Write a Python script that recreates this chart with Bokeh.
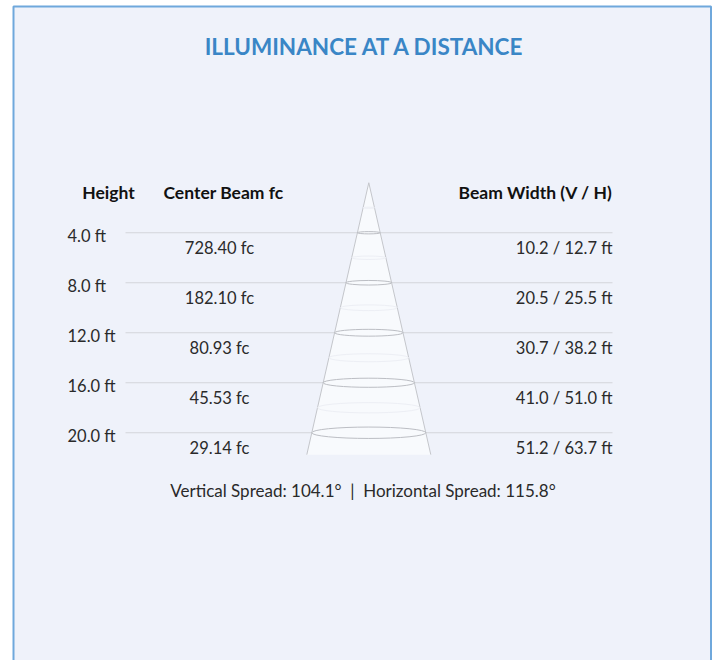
from bokeh.plotting import figure
from bokeh.models import Range1d
from bokeh.core.properties import value
from bokeh.embed import file_html
from bokeh.resources import INLINE

# ---- data ----
heights = [4.0, 8.0, 12.0, 16.0, 20.0]
center_fc = [728.40, 182.10, 80.93, 45.53, 29.14]
beam_v = [10.2, 20.5, 30.7, 41.0, 51.2]
beam_h = [12.7, 25.5, 38.2, 51.0, 63.7]
vertical_spread = 104.1
horizontal_spread = 115.8
headers = ["Height", "Center Beam fc", "Beam Width (V / H)"]
title_text = "ILLUMINANCE AT A DISTANCE"

# ---- layout constants ----
W, H = 712, 660
PX_PER_FT = 12.5          # vertical scale (px per ft of mounting height)
APEX_Y = 182.25           # pixel row of the fixture (0 ft)
TOP_FT = -APEX_Y / PX_PER_FT
BEAM_PX = 1.79            # px of drawing per ft of beam width
CX = 368.3                # cone centre x (px)
FONT = value("Lato")

p = figure(width=W, height=H, output_backend="svg", toolbar_location=None,
           x_range=Range1d(0, W),
           y_range=Range1d(TOP_FT + H / PX_PER_FT, TOP_FT),
           min_border=0, min_border_left=0, min_border_right=0,
           min_border_top=0, min_border_bottom=0)
p.axis.visible = False
p.grid.visible = False
p.outline_line_color = None
p.background_fill_color = "white"
p.border_fill_color = "white"

def py(pix_y):
    return TOP_FT + pix_y / PX_PER_FT

# panel
p.quad(left=13, right=710.5, top=py(6), bottom=py(720),
       fill_color="#eff2fa", line_color="#6fa8dc", line_width=2)

# title
p.text(x=[364.5], y=[py(46)], text=[title_text], text_font=FONT,
       text_font_size=value("22.5px"), text_font_style="bold",
       text_color="#3a86c6", text_align="center", text_baseline="alphabetic")

# row rules
p.segment(x0=[125] * len(heights), x1=[612] * len(heights),
          y0=heights, y1=heights, line_color="#d3d5da", line_width=1)

# cone
rate = beam_h[-1] / heights[-1] * BEAM_PX / 2.0   # half-width px per ft depth
base = heights[-1] + 1.75
p.patch(x=[CX, CX - rate * base, CX + rate * base],
        y=[0, base, base], fill_color="#f8fafd", line_color=None)
p.segment(x0=[CX, CX], y0=[0, 0], x1=[CX - rate * base, CX + rate * base],
          y1=[base, base], line_color="#c4c6cb", line_width=1)

# faint intermediate ellipses
mids = [h - 2.0 for h in heights]
mid_w = [2 * rate * m for m in mids]
p.ellipse(x=[CX] * len(mids), y=mids, width=mid_w,
          height=[w * 0.1 / PX_PER_FT for w in mid_w],
          fill_color=None, line_color="#edeff5", line_width=1)

# beam ellipses
ew = [b * BEAM_PX for b in beam_h]
p.ellipse(x=[CX] * len(heights), y=heights, width=ew,
          height=[w * 0.1 / PX_PER_FT for w in ew],
          fill_color=None, line_color="#bcbec4", line_width=1)

# headers
hy = py(191.5)
hsize = value("17.5px")
p.text(x=[108], y=[hy], text=[headers[0]], text_font=FONT, text_font_size=hsize,
       text_font_style="bold", text_color="#111111", text_align="center", text_baseline="alphabetic")
p.text(x=[223], y=[hy], text=[headers[1]], text_font=FONT, text_font_size=hsize,
       text_font_style="bold", text_color="#111111", text_align="center", text_baseline="alphabetic")
p.text(x=[612], y=[hy], text=[headers[2]], text_font=FONT, text_font_size=hsize,
       text_font_style="bold", text_color="#111111", text_align="right", text_baseline="alphabetic")

# row labels
p.text(x=[67] * len(heights), y=[h + 0.22 for h in heights],
       text=[f"{h:.1f} ft" for h in heights], text_font=FONT, text_font_size=value("16.5px"),
       text_color="#2a2a2a", text_align="left", text_baseline="alphabetic")
p.text(x=[219] * len(heights), y=[h + 1.2 for h in heights],
       text=[f"{f:.2f} fc" for f in center_fc], text_font=FONT, text_font_size=value("16.5px"),
       text_color="#2a2a2a", text_align="center", text_baseline="alphabetic")
p.text(x=[612] * len(heights), y=[h + 1.2 for h in heights],
       text=[f"{v:.1f} / {hh:.1f} ft" for v, hh in zip(beam_v, beam_h)], text_font=FONT,
       text_font_size=value("16.5px"), text_color="#2a2a2a", text_align="right",
       text_baseline="alphabetic")

# footer
footer = f"Vertical Spread: {vertical_spread}°\u00a0 |\u00a0 Horizontal Spread: {horizontal_spread}°"
p.text(x=[362.5], y=[py(490)], text=[footer], text_font=FONT, text_font_size=value("17px"),
       text_color="#2a2a2a", text_align="center", text_baseline="alphabetic")

open("out.html", "w").write(file_html(p, INLINE))
